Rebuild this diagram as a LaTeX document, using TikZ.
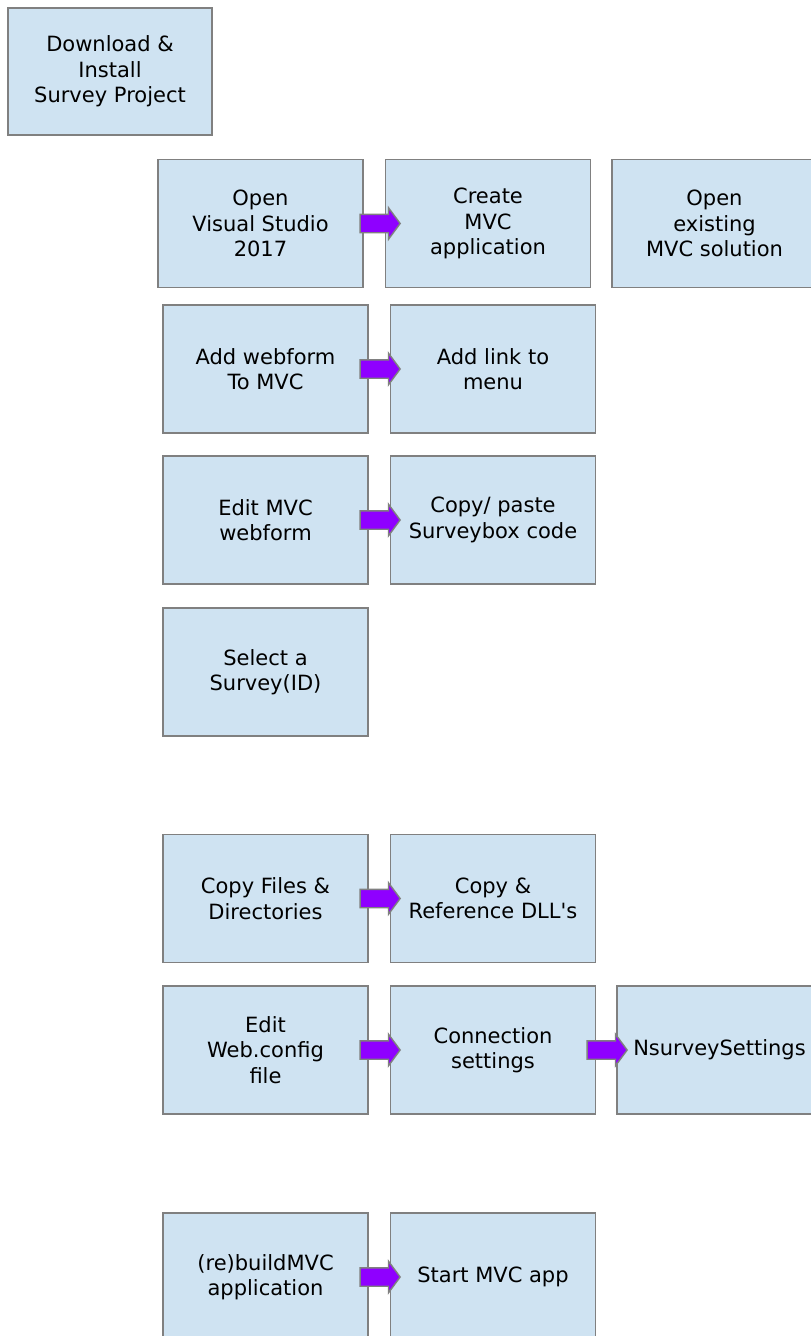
\documentclass[tikz,border=0pt]{standalone}
\usepackage{fontspec}
\setmainfont{DejaVu Sans}[Ligatures=TeXOff]
\usepackage{tikz}
\usetikzlibrary{positioning, shapes.arrows, calc}
\definecolor{boxfill}{RGB}{207,227,242}
\definecolor{boxline}{RGB}{128,128,128}
\definecolor{arrfill}{RGB}{143,0,255}
\tikzset{
x=1pt, y=-1pt, % one unit is one pixel of the layout
node distance=151pt, % centre to centre, from one row to the next
box/.style={draw=boxline, fill=boxfill, line width=1.5pt, minimum width=205pt, minimum height=128pt, inner sep=0pt, align=center, font=\fontsize{21}{25.5}\selectfont}, % every step
arr/.style={single arrow, draw=boxline, fill=arrfill, line width=1.4pt, inner xsep=0pt, inner ysep=8.5pt, single arrow head extend=6.5pt, single arrow tip angle=107, minimum height=40pt}, % the fat arrows
}
\begin{document}
\begin{tikzpicture}
            \useasboundingbox (0,0) rectangle (811,1336);

            \node[box, minimum width=204pt, minimum height=127pt] (dl) at (110,71.5) {Download \&\\Install\\Survey Project};

            \node[box, below of=dl, xshift=150.5pt, yshift=-1pt] (ovs) {Open\\Visual Studio\\2017};
            \node[box, right of=ovs, xshift=76.5pt] (cmvc) {Create\\MVC\\application};
            \node[box, right of=cmvc, xshift=75.5pt] (oex) {Open\\existing\\MVC solution};

            \node[box, below of=ovs, xshift=5pt, yshift=5.5pt] (awf) {Add webform\\To MVC};
            \node[box, right of=awf, xshift=76.5pt] (alk) {Add link to\\menu};

            \node[box, below of=awf] (emw) {Edit MVC\\webform};
            \node[box, right of=emw, xshift=76.5pt] (cpc) {Copy/ paste\\Surveybox code};

            \node[box, below of=emw, yshift=-1pt] (sel) {Select a\\Survey(ID)};

            \node[box, below of=sel, yshift=-75.5pt] (cfd) {Copy Files \&\\Directories};
            \node[box, right of=cfd, xshift=76.5pt] (crd) {Copy \&\\Reference DLL's};

            \node[box, below of=cfd, yshift=-0.5pt] (ewc) {Edit\\Web.config\\file};
            \node[box, right of=ewc, xshift=76.5pt] (cns) {Connection\\settings};
            \node[box, right of=cns, xshift=75.5pt] (nss) {NsurveySettings};

            \node[box, below of=ewc, yshift=-76pt] (rbd) {(re)buildMVC\\application};
            \node[box, right of=rbd, xshift=76.5pt] (smv) {Start MVC app};

            % arrows sit on top of the boxes
            \node[arr, xshift=2.5pt] (a1) at ($(ovs.east)!0.5!(cmvc.west)$) {};
            \node[arr, xshift=-2.5pt] (a2) at ($(awf.east)!0.5!(alk.west)$) {};
            \node[arr, xshift=-2.5pt] (a3) at ($(emw.east)!0.5!(cpc.west)$) {};
            \node[arr, xshift=-2.5pt] (a4) at ($(cfd.east)!0.5!(crd.west)$) {};
            \node[arr, xshift=-2.5pt] (a5) at ($(ewc.east)!0.5!(cns.west)$) {};
            \node[arr, xshift=-2.5pt] (a6) at ($(cns.east)!0.5!(nss.west)$) {};
            \node[arr, xshift=-2.5pt] (a7) at ($(rbd.east)!0.5!(smv.west)$) {};
        \end{tikzpicture}
\end{document}
